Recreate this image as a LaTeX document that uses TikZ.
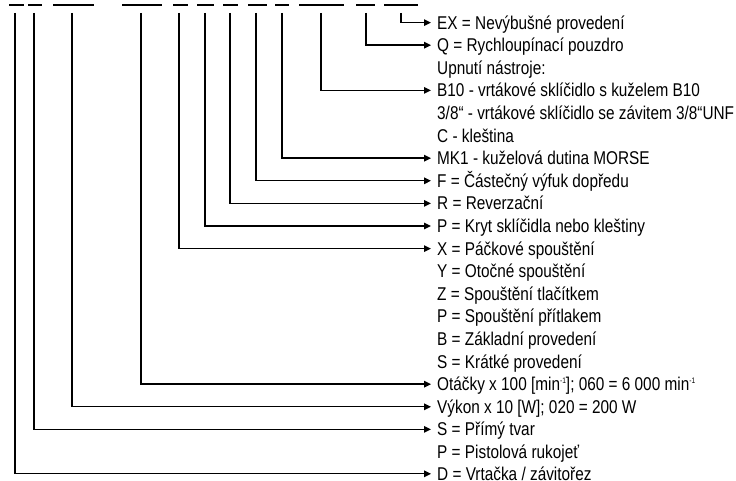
\documentclass[tikz,border=0pt]{standalone}
\usepackage{fontspec}
\setmainfont{Liberation Sans}[FakeStretch=0.83]
\usetikzlibrary{arrows.meta}

\newcommand{\expo}[1]{\raisebox{0.42em}{\fontsize{8}{8}\selectfont #1}}

\begin{document}
\begin{tikzpicture}[x=1pt, y=1pt,
    code/.style={line width=2.2pt},
    lead/.style={line width=1.4pt, -{Triangle[length=7pt, width=6.5pt]}},
    item/.style={anchor=west, inner xsep=6pt, inner ysep=0pt, text height=13.2pt, text depth=0pt,
        font=\fontsize{18.5}{20}\selectfont}]
    \useasboundingbox (0,0) rectangle (736,481);

    % Type code fields
    \draw[code] (9,476) -- (24,476);
    \draw[code] (28,476) -- (42,476);
    \draw[code] (53,476) -- (94,476);
    \draw[code] (122,476) -- (162,476);
    \draw[code] (173,476) -- (188,476);
    \draw[code] (197,476) -- (214,476);
    \draw[code] (223,476) -- (238,476);
    \draw[code] (248,476) -- (267,476);
    \draw[code] (275,476) -- (289,476);
    \draw[code] (299,476) -- (344,476);
    \draw[code] (356,476) -- (375,476);
    \draw[code] (384,476) -- (418,476);

    % Field positions
    \coordinate (cD) at (15,468);
    \coordinate (cS) at (34,468);
    \coordinate (cVykon) at (72,468);
    \coordinate (cOtacky) at (141,468);
    \coordinate (cX) at (179,468);
    \coordinate (cP) at (205,468);
    \coordinate (cR) at (230,468);
    \coordinate (cF) at (256,468);
    \coordinate (cMK) at (282,468);
    \coordinate (cB) at (321,468);
    \coordinate (cQ) at (366,468);
    \coordinate (cEX) at (401,468);

    % Legend
    \node[item] (ex) at (431,458.4) {EX = Nevýbušné provedení};
    \node[item] (q) at (431,435.8) {Q = Rychloupínací pouzdro};
    \node[item] (upnuti) at (431,413.2) {Upnutí nástroje:};
    \node[item] (b10) at (431,390.6) {B10 - vrtákové sklíčidlo s kuželem B10};
    \node[item] (unf) at (431,368) {3/8“ - vrtákové sklíčidlo se závitem 3/8“UNF};
    \node[item] (c) at (431,345.4) {C - kleština};
    \node[item] (mk1) at (431,322.8) {MK1 - kuželová dutina MORSE};
    \node[item] (f) at (431,300.2) {F = Částečný výfuk dopředu};
    \node[item] (r) at (431,277.6) {R = Reverzační};
    \node[item] (p) at (431,255) {P = Kryt sklíčidla nebo kleštiny};
    \node[item] (x) at (431,232.4) {X = Páčkové spouštění};
    \node[item] (y) at (431,209.8) {Y = Otočné spouštění};
    \node[item] (z) at (431,187.2) {Z = Spouštění tlačítkem};
    \node[item] (pp) at (431,164.6) {P = Spouštění přítlakem};
    \node[item] (b) at (431,142) {B = Základní provedení};
    \node[item] (s) at (431,119.4) {S = Krátké provedení};
    \node[item] (otacky) at (431,96.8) {Otáčky x 100 [min\expo{-1}]; 060 = 6 000 min\expo{-1}};
    \node[item] (vykon) at (431,74.2) {Výkon x 10 [W]; 020 = 200 W};
    \node[item] (tvar) at (431,51.6) {S = Přímý tvar};
    \node[item] (pist) at (431,29) {P = Pistolová rukojeť};
    \node[item] (d) at (431,7.2) {D = Vrtačka / závitořez};

    % Connections
    \draw[lead] (cEX) |- (ex.west);
    \draw[lead] (cQ) |- (q.west);
    \draw[lead] (cB) |- (b10.west);
    \draw[lead] (cMK) |- (mk1.west);
    \draw[lead] (cF) |- (f.west);
    \draw[lead] (cR) |- (r.west);
    \draw[lead] (cP) |- (p.west);
    \draw[lead] (cX) |- (x.west);
    \draw[lead] (cOtacky) |- (otacky.west);
    \draw[lead] (cVykon) |- (vykon.west);
    \draw[lead] (cS) |- (tvar.west);
    \draw[lead] (cD) |- (d.west);
\end{tikzpicture}
\end{document}
